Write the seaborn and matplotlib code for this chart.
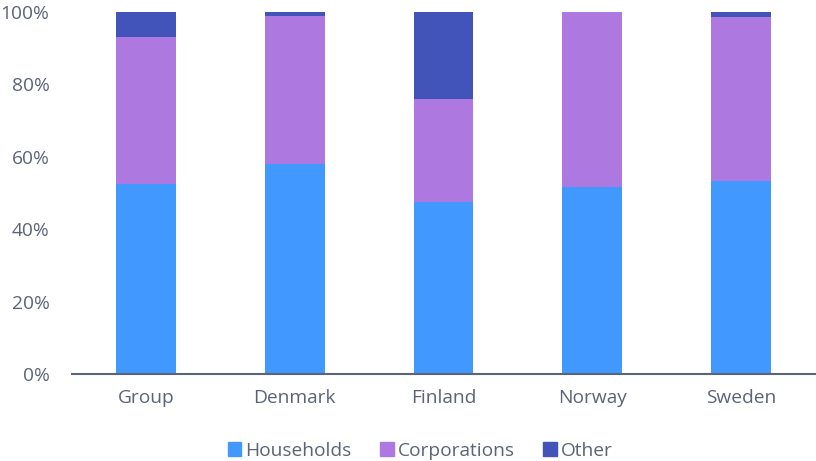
import numpy as np
import pandas as pd
import matplotlib
matplotlib.use("Agg")
import matplotlib.pyplot as plt
import seaborn as sns
from matplotlib.patches import Patch

# datos (porcentaje)
paises = ['Group', 'Denmark', 'Finland', 'Norway', 'Sweden']
households = [52.4, 58.1, 47.4, 51.6, 53.3]
corporations = [40.6, 40.8, 28.6, 48.4, 45.2]
other = [7.0, 1.1, 24.0, 0.0, 1.5]

colores = {'Households': '#4199FF', 'Corporations': '#AD78DF', 'Other': '#4254B9'}
gris = '#5B6477'

df = pd.DataFrame({'Pais': paises, 'Households': households,
                   'Corporations': corporations, 'Other': other})
df['c1'] = df['Households']
df['c2'] = df['Households'] + df['Corporations']
df['c3'] = df['c2'] + df['Other']

sns.set_style('white')
plt.rcParams['font.family'] = ['Open Sans', 'DejaVu Sans']

fig = plt.figure(figsize=(8.16, 4.61), dpi=100)
ax = fig.add_axes([0.088, 0.1887, 0.911, 0.7853])

# barras apiladas: se dibuja la suma acumulada de arriba hacia abajo
for col, serie in [('c3', 'Other'), ('c2', 'Corporations'), ('c1', 'Households')]:
    sns.barplot(data=df, x='Pais', y=col, color=colores[serie], width=0.4,
                saturation=1, linewidth=0, ax=ax)

ax.set_ylim(0, 100)
ax.set_xlim(-0.5, 4.5)
ax.set_yticks(np.arange(0, 101, 20))
ax.set_yticklabels([f'{v}%' for v in range(0, 101, 20)])
ax.set_xlabel('')
ax.set_ylabel('')
ax.tick_params(axis='both', colors=gris, labelsize=13.8, length=0)
ax.tick_params(axis='x', pad=11)
ax.tick_params(axis='y', pad=16)
for s in ['top', 'right', 'left']:
    ax.spines[s].set_visible(False)
ax.spines['bottom'].set_color(gris)
ax.spines['bottom'].set_linewidth(1.5)
ax.grid(False)

handles = [Patch(color=colores[k]) for k in ['Households', 'Corporations', 'Other']]
fig.legend(handles, ['Households', 'Corporations', 'Other'], loc='center',
           bbox_to_anchor=(0.515, 0.022), ncol=3, frameon=False,
           fontsize=13.8, labelcolor=gris, handlelength=0.7, handleheight=0.7,
           handletextpad=0.2, columnspacing=1.5)

fig.savefig('out.png', dpi=100)
